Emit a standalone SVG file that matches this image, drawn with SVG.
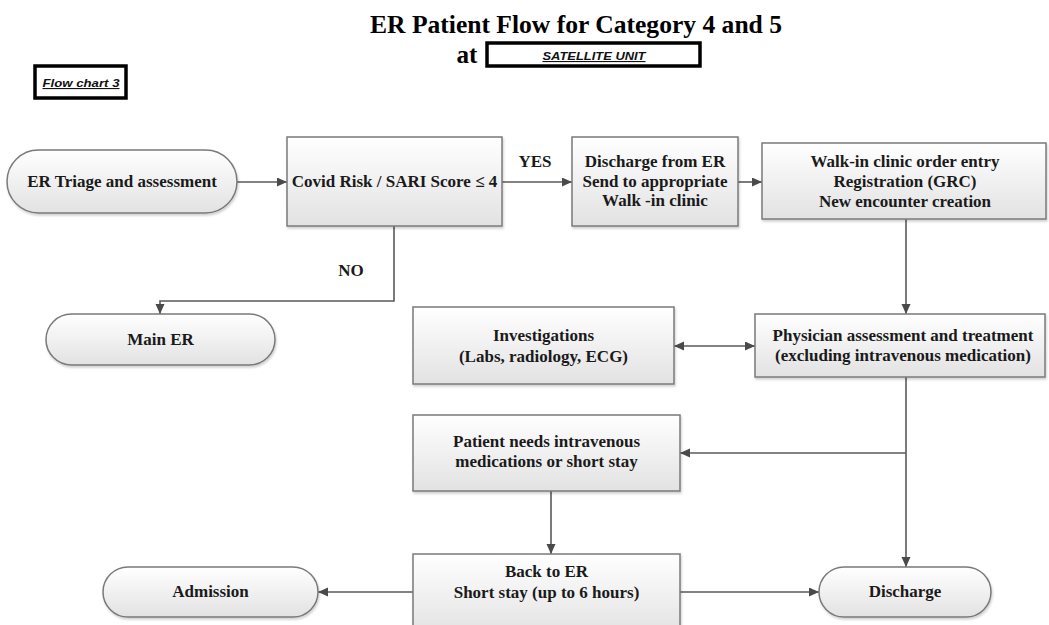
<svg xmlns="http://www.w3.org/2000/svg" width="1049" height="625" viewBox="0 0 1049 625" font-family="'Liberation Serif', 'Times New Roman', serif">
<style>
.node{fill:url(#g);stroke:#7a7a7a;stroke-width:1.5;filter:url(#sh)}
.t{font-weight:700;font-size:17px;fill:#1a1a1a;text-anchor:middle}
.c{fill:none;stroke:#5a5a5a;stroke-width:1.6}
.h{font-weight:700;fill:#000}
.lab{font-family:'Liberation Sans',Arial,sans-serif;font-weight:700;font-style:italic;font-size:11px;text-decoration:underline;fill:#111;text-anchor:middle}
.frame{fill:#fff;stroke:#000;stroke-width:3.5}
</style>
<defs>
<linearGradient id="g" x1="0" y1="0" x2="0" y2="1">
<stop offset="0" stop-color="#ffffff"/>
<stop offset="1" stop-color="#e2e2e2"/>
</linearGradient>
<filter id="sh" x="-5%" y="-5%" width="112%" height="125%">
<feDropShadow dx="1" dy="2" stdDeviation="1.2" flood-color="#000" flood-opacity="0.18"/>
</filter>
<marker id="a" markerUnits="userSpaceOnUse" markerWidth="11" markerHeight="10" refX="10" refY="4.5" orient="auto-start-reverse">
<path d="M0,0 L10,4.5 L0,9 z" fill="#4a4a4a"/>
</marker>
</defs>
<rect width="1049" height="625" fill="#fff"/>

<g id="header">
<text class="h" x="576" y="33" font-size="26" text-anchor="middle" textLength="412" lengthAdjust="spacingAndGlyphs">ER Patient Flow for Category 4 and 5</text>
<text class="h" x="467" y="63" font-size="26" text-anchor="middle" textLength="21" lengthAdjust="spacingAndGlyphs">at</text>
<rect class="frame" x="487" y="43" width="213" height="23"/>
<text class="lab" x="594" y="60" textLength="103" lengthAdjust="spacingAndGlyphs">SATELLITE UNIT</text>
</g>
<g id="flowchart-label">
<rect class="frame" x="35" y="66" width="91" height="32"/>
<text class="lab" x="81" y="87" textLength="77" lengthAdjust="spacingAndGlyphs">Flow chart 3</text>
</g>

<g id="connectors">
<path class="c" d="M237,182 H287" marker-end="url(#a)"/>
<path class="c" d="M502,182 H572" marker-end="url(#a)"/>
<path class="c" d="M738,182 H762" marker-end="url(#a)"/>
<path class="c" d="M906,219 V314" marker-end="url(#a)"/>
<path class="c" d="M394,226 V301 H160 V314" marker-end="url(#a)"/>
<path class="c" d="M674,346 H755" marker-start="url(#a)" marker-end="url(#a)"/>
<path class="c" d="M906,377 V567" marker-end="url(#a)"/>
<path class="c" d="M906,453 H680" marker-end="url(#a)"/>
<path class="c" d="M551,491 V554" marker-end="url(#a)"/>
<path class="c" d="M413,592 H318" marker-end="url(#a)"/>
<path class="c" d="M680,592 H819" marker-end="url(#a)"/>
<text class="t" x="535" y="167">YES</text>
<text class="t" x="351" y="276">NO</text>
</g>

<g id="er-triage">
<rect class="node" x="7" y="150" width="230" height="63" rx="31.5"/>
<text class="t" x="122" y="187">ER Triage and assessment</text>
</g>
<g id="covid-risk">
<rect class="node" x="287" y="137" width="215" height="89"/>
<text class="t" x="394.5" y="187">Covid Risk / SARI Score ≤ 4</text>
</g>
<g id="discharge-er">
<rect class="node" x="572" y="137" width="166" height="89"/>
<text class="t" x="655" y="167">Discharge from ER</text>
<text class="t" x="655" y="187">Send to appropriate</text>
<text class="t" x="655" y="206">Walk -in clinic</text>
</g>
<g id="walk-in">
<rect class="node" x="762" y="143" width="284" height="76"/>
<text class="t" x="905" y="167">Walk-in clinic order entry</text>
<text class="t" x="905" y="187">Registration (GRC)</text>
<text class="t" x="905" y="207">New encounter creation</text>
</g>
<g id="main-er">
<rect class="node" x="46" y="314" width="229" height="51" rx="25.5"/>
<text class="t" x="160.5" y="345">Main ER</text>
</g>
<g id="investigations">
<rect class="node" x="413" y="307" width="261" height="77"/>
<text class="t" x="543.5" y="341">Investigations</text>
<text class="t" x="543.5" y="362">(Labs, radiology, ECG)</text>
</g>
<g id="physician">
<rect class="node" x="755" y="314" width="290" height="63"/>
<text class="t" x="903" y="341">Physician assessment and treatment</text>
<text class="t" x="903" y="361">(excluding intravenous medication)</text>
</g>
<g id="patient-needs">
<rect class="node" x="413" y="415" width="267" height="76"/>
<text class="t" x="546.5" y="447">Patient needs intravenous</text>
<text class="t" x="546.5" y="467">medications or short stay</text>
</g>
<g id="back-to-er">
<rect class="node" x="413" y="554" width="267" height="82"/>
<text class="t" x="546.5" y="577">Back to ER</text>
<text class="t" x="546.5" y="598">Short stay (up to 6 hours)</text>
</g>
<g id="admission">
<rect class="node" x="103" y="567" width="215" height="50" rx="25"/>
<text class="t" x="210.5" y="597">Admission</text>
</g>
<g id="discharge">
<rect class="node" x="819" y="567" width="172" height="50" rx="25"/>
<text class="t" x="905" y="597">Discharge</text>
</g>
</svg>
